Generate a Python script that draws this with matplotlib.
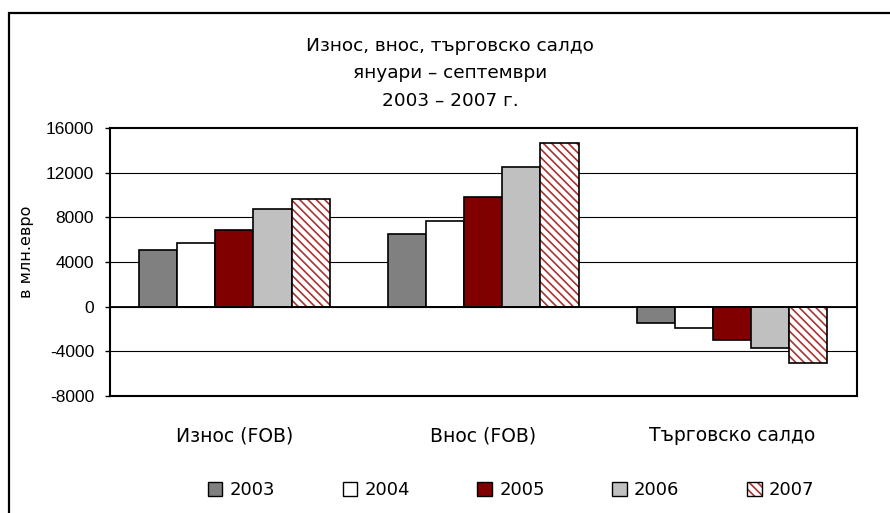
import numpy as np
import matplotlib
matplotlib.use("Agg")
import matplotlib.pyplot as plt
from matplotlib.patches import Patch, Rectangle
from matplotlib.legend_handler import HandlerTuple

# data, million euro, January - September
categories = ["Износ (FOB)", "Внос (FOB)", "Търговско салдо"]
years = ["2003", "2004", "2005", "2006", "2007"]
v2003 = [5040, 6470, -1490]
v2004 = [5750, 7720, -1950]
v2005 = [6830, 9870, -3020]
v2006 = [8800, 12550, -3740]
v2007 = [9690, 14710, -5060]
series = [v2003, v2004, v2005, v2006, v2007]
yticks = [-8000, -4000, 0, 4000, 8000, 12000, 16000]

colors = ["#808080", "#ffffff", "#800000", "#c0c0c0", "#ffffff"]
hatch_col = "#a83232"

plt.rcParams["hatch.linewidth"] = 1.2
W, H = 890, 513
fig = plt.figure(figsize=(W / 100, H / 100), dpi=100)
ax = fig.add_axes([110 / W, 1 - 395.7 / H, (856.7 - 110) / W, (395.7 - 128.3) / H])

x = np.arange(len(categories))
bw = 0.153
for i, vals in enumerate(series):
    pos = x + (i - 2) * bw
    if i == 4:
        ax.bar(pos, vals, bw, color="white", edgecolor=hatch_col, hatch="\\\\\\\\", lw=0, zorder=3)
        ax.bar(pos, vals, bw, fill=False, edgecolor="black", lw=1.2, zorder=4)
    else:
        ax.bar(pos, vals, bw, color=colors[i], edgecolor="black", lw=1.2, zorder=3)

ax.set_xlim(-0.5, 2.5)
ax.set_ylim(-8000, 16000)
ax.set_yticks(yticks)
ax.set_yticklabels([str(t) for t in yticks], family="Liberation Sans", fontsize=12.5)
for t in yticks[1:-1]:
    ax.axhline(t, color="black", lw=0.8, zorder=1)
ax.axhline(0, color="black", lw=1.3, zorder=5)
ax.tick_params(axis="y", direction="out", length=3.5, width=1, pad=8)
ax.set_xticks(x)
ax.set_xticklabels(categories, family="DejaVu Sans", fontsize=13.5)
ax.tick_params(axis="x", length=0, pad=22)
for s in ax.spines.values():
    s.set_linewidth(1.5)

# title lines
title_lines = ["Износ, внос, търговско салдо", "януари – септември", "2003 – 2007 г."]
for line, base in zip(title_lines, [51, 78, 106]):
    fig.text(450 / W, 1 - base / H, line, ha="center", va="baseline",
             family="DejaVu Sans", fontsize=13.3)

fig.text(27 / W, 1 - 252 / H, "в млн.евро", rotation=90, ha="center", va="center",
         family="DejaVu Sans", fontsize=11.5)

# outer frame (runs past the image edge)
fig.patches.append(Rectangle((9 / W, -0.2), 1.2, 1.2 - 12.5 / H,
                             transform=fig.transFigure, fill=False,
                             edgecolor="black", lw=1.6))

handles = [Patch(facecolor=c, edgecolor="black", lw=1.0) for c in colors[:4]]
handles.append((Patch(facecolor="white", edgecolor=hatch_col, hatch="\\\\\\\\", lw=0),
                Patch(fill=False, edgecolor="black", lw=1.0)))
fig.legend(handles, years, loc="center", bbox_to_anchor=(511 / W, 1 - 490 / H),
           ncol=5, frameon=False, prop={"family": "DejaVu Sans", "size": 13},
           handlelength=0.8, handleheight=0.8, handletextpad=0.4, columnspacing=3.75,
           handler_map={tuple: HandlerTuple(ndivide=1)})

fig.savefig("out.png", dpi=100)
